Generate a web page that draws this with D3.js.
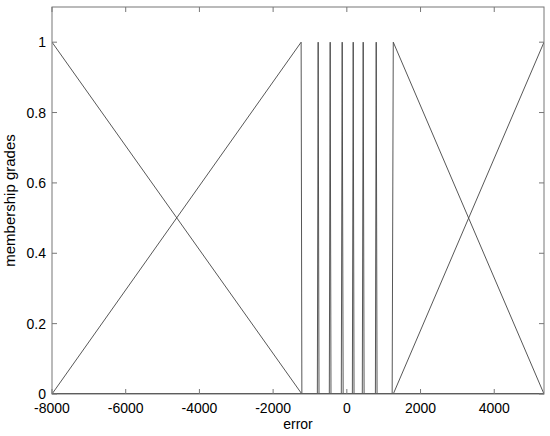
<!DOCTYPE html>
<html>
<head>
<meta charset="utf-8">
<script src="https://cdn.jsdelivr.net/npm/d3@7"></script>
<style>
  body { margin: 0; background: #fff; }
  svg text { font-family: "Liberation Sans", Arial, sans-serif; fill: #000; }
</style>
</head>
<body>
<div id="chart"></div>
<script>
// input range of the "error" variable
const xRange = [-8000, 5350];
const yRange = [0, 1.1];

const xTicks = [-8000, -6000, -4000, -2000, 0, 2000, 4000];
const yTicks = [0, 0.2, 0.4, 0.6, 0.8, 1];

// triangular membership functions [a, b, c]
const mfA = [-8000, -8000, -800, -475, -150, 150, 420, 775, 1230, 1260];
const mfB = [-8000, -1240, -778, -452, -126, 173, 444, 797, 1260, 5350];
const mfC = [-1220, -1220, -755, -430, -100, 195, 468, 820, 5350, 5350];

const margin = {top: 7, right: 6, bottom: 42, left: 52},
    width = 550 - margin.left - margin.right,
    height = 436 - margin.top - margin.bottom;

const svg = d3.select("#chart")
  .append("svg")
    .attr("width", 550)
    .attr("height", 436)
  .append("g")
    .attr("transform", `translate(${margin.left},${margin.top})`);

const x = d3.scaleLinear().domain(xRange).range([0, width]);
const y = d3.scaleLinear().domain(yRange).range([height, 0]);

svg.append("clipPath").attr("id", "clip")
  .append("rect").attr("width", width).attr("height", height);

function trimf(v, a, b, c) {
  if (v < a || v > c) return 0;
  if (v <= b) return b === a ? 1 : (v - a) / (b - a);
  return c === b ? 1 : (c - v) / (c - b);
}

// build each curve from its breakpoints inside the range
const curves = mfA.map(function(a, i) {
  const b = mfB[i], c = mfC[i];
  const pts = [xRange[0], a, b, c, xRange[1]]
    .filter(v => v >= xRange[0] && v <= xRange[1]);
  const uniq = Array.from(new Set(pts)).sort((p, q) => p - q);
  return uniq.map(v => ({x: v, y: trimf(v, a, b, c)}));
});

const line = d3.line().x(d => x(d.x)).y(d => y(d.y));

svg.append("g").attr("clip-path", "url(#clip)")
  .selectAll("path")
  .data(curves)
  .enter()
  .append("path")
    .attr("d", line)
    .attr("fill", "none")
    .attr("stroke", "#444")
    .attr("stroke-width", 0.9);

// box with inward ticks (matlab style)
const boxColor = "#777";
svg.append("rect")
  .attr("width", width).attr("height", height)
  .attr("fill", "none").attr("stroke", boxColor).attr("stroke-width", 1);

const tk = 5;
const fs = 14;
const xt = svg.append("g");
xTicks.forEach(function(t) {
  xt.append("line").attr("x1", x(t)).attr("x2", x(t)).attr("y1", height).attr("y2", height - tk)
    .attr("stroke", boxColor);
  xt.append("line").attr("x1", x(t)).attr("x2", x(t)).attr("y1", 0).attr("y2", tk)
    .attr("stroke", boxColor);
  xt.append("text").attr("x", x(t)).attr("y", height + 19)
    .attr("text-anchor", "middle").attr("font-size", fs).text(t);
});

const yt = svg.append("g");
yTicks.forEach(function(t) {
  yt.append("line").attr("x1", 0).attr("x2", tk).attr("y1", y(t)).attr("y2", y(t))
    .attr("stroke", boxColor);
  yt.append("line").attr("x1", width).attr("x2", width - tk).attr("y1", y(t)).attr("y2", y(t))
    .attr("stroke", boxColor);
  yt.append("text").attr("x", -6).attr("y", y(t) + 5)
    .attr("text-anchor", "end").attr("font-size", fs).text(t);
});

svg.append("text")
  .attr("x", width / 2).attr("y", height + 35)
  .attr("text-anchor", "middle").attr("font-size", fs)
  .text("error");

svg.append("text")
  .attr("transform", `translate(${-37},${height / 2}) rotate(-90)`)
  .attr("text-anchor", "middle").attr("font-size", 15)
  .text("membership grades");
</script>
</body>
</html>
